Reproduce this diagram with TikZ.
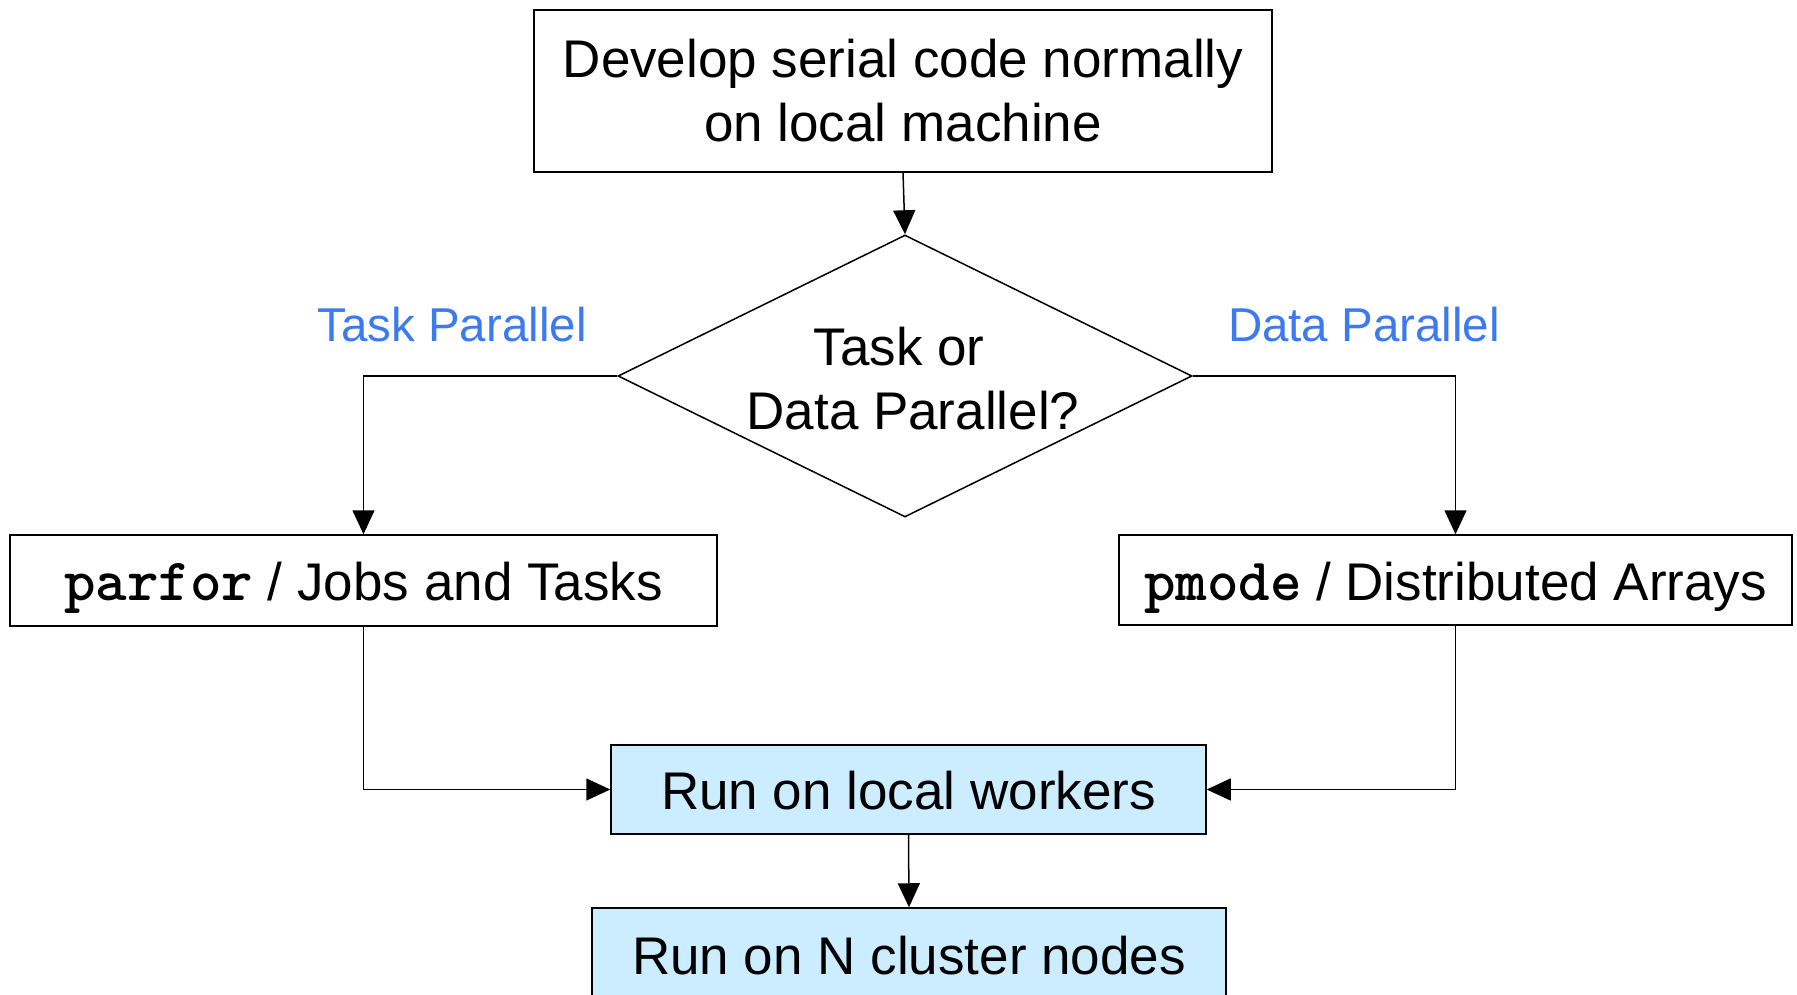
\documentclass[tikz,border=0pt]{standalone}
\usepackage{fontspec}
\setmainfont{Liberation Sans}
\newfontfamily\codefont[Extension=.otf]{lmmonolt10-bold}
\usetikzlibrary{arrows.meta,shapes.geometric}
\definecolor{labelblue}{RGB}{59,122,240}
\definecolor{runfill}{RGB}{204,236,255}
\tikzset{
  box/.style={draw=black, line width=1.5pt, fill=white, inner sep=0pt,
    font=\fontsize{53}{64}\selectfont, align=center},
  linebox/.style={box, text height=45pt, text depth=5pt},
  runbox/.style={linebox, fill=runfill},
  decision/.style={diamond, draw=black, line width=1.5pt, inner sep=0pt,
    aspect=2.04, minimum width=574pt, minimum height=282pt},
  question/.style={font=\fontsize{53}{64}\selectfont, align=center},
  branchlabel/.style={text=labelblue, font=\fontsize{47.5}{57}\selectfont},
  arr/.style={draw=black, line width=1.5pt,
    -{Triangle[width=22pt,length=24pt]}}
}
\newcommand{\codeword}[1]{{\codefont\fontsize{60}{64}\selectfont #1}}
\begin{document}
\begin{tikzpicture}[x=1pt,y=-1pt]
  \useasboundingbox (0,0) rectangle (1797,995);
  \clip (0,0) rectangle (1797,995);

  % start
  \node[box, minimum width=738pt, minimum height=162pt] (dev) at (903,91)
    {Develop serial code normally\\on local machine};

  % decision
  \node[decision] (dec) at (905,376) {};
  \node[question] (q) at (906,379)
    {\hspace*{-14pt}Task or\\\hspace*{14pt}Data Parallel?};

  % branch labels
  \node[branchlabel] (tp) at (452,325) {Task Parallel};
  \node[branchlabel] (dp) at (1364,325) {Data Parallel};

  % the two programming models
  \node[linebox, minimum width=707pt, minimum height=91pt] (task) at (363.5,580.5)
    {\codeword{parfor} / Jobs and Tasks};
  \node[linebox, minimum width=673pt, minimum height=90pt] (data) at (1455.5,580)
    {\codeword{pmode} / Distributed Arrays};

  % execution targets
  \node[runbox, minimum width=595pt, minimum height=89pt] (local) at (908.5,789.5)
    {Run on local workers};
  \node[runbox, minimum width=634pt, minimum height=92pt] (cluster) at (909,954)
    {Run on N cluster nodes};

  % connectors
  \draw[arr] (dev.south) -- (dec.north);
  \draw[arr] (dec.west) -| (task.north);
  \draw[arr] (dec.east) -| (data.north);
  \draw[arr] (task.south) |- (local.west);
  \draw[arr] (data.south) |- (local.east);
  \draw[arr] (local.south) -- (cluster.north);
\end{tikzpicture}
\end{document}
